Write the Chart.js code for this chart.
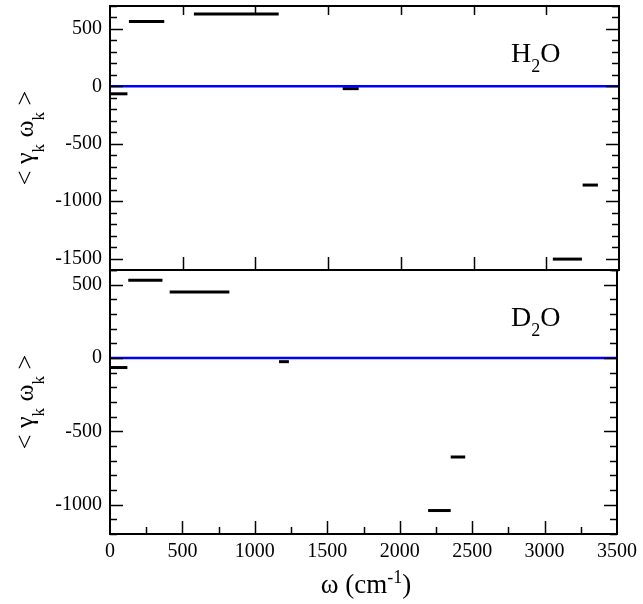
<!DOCTYPE html>
<html lang="en">
<head>
<meta charset="UTF-8">
<title>&lt;γk ωk&gt; for H2O and D2O</title>
<script src="https://cdn.jsdelivr.net/npm/chart.js@4.4.4/dist/chart.umd.min.js"></script>
<style>
  html, body { margin: 0; padding: 0; background: #fff; }
  .stage { position: relative; width: 643px; height: 604px; }
  .stage canvas { position: absolute; left: 0; top: 0; }
</style>
</head>
<body>
<div class="stage">
  <canvas id="h2oChart" width="643" height="604"></canvas>
  <canvas id="d2oChart" width="643" height="604"></canvas>
</div>
<script>
const SERIF = "'Liberation Serif', 'DejaVu Serif', serif";

// shared frequency axis (cm^-1)
const xTicks = [0, 500, 1000, 1500, 2000, 2500, 3000, 3500];
const xMinorTicks = [250, 750, 1250, 1750, 2250, 2750, 3250];

// H2O: each band is a flat segment from start to end at its mean value
const h2oStart = [0, 130, 577, 1600, 3045, 3250];
const h2oEnd = [120, 373, 1160, 1710, 3245, 3355];
const h2oValue = [-65, 565, 630, -20, -1505, -860];
const h2oTicks = [-1500, -1000, -500, 0, 500];

// D2O
const d2oStart = [0, 126, 412, 1167, 2196, 2352];
const d2oEnd = [120, 362, 824, 1235, 2352, 2452];
const d2oValue = [-65, 530, 450, -25, -1040, -675];
const d2oTicks = [-1000, -500, 0, 500];

Chart.defaults.font.family = SERIF;

function segmentDatasets(starts, ends, values) {
    const sets = [{
        data: [{ x: 0, y: 0 }, { x: 3500, y: 0 }],
        borderColor: '#0000ff',
        borderWidth: 2.5,
    }];
    starts.forEach((s, i) => {
        sets.push({
            data: [{ x: s, y: values[i] }, { x: ends[i], y: values[i] }],
            borderColor: '#000',
            borderWidth: 3,
            borderCapStyle: 'butt',
        });
    });
    return sets;
}

// Draw a run of text pieces (for sub/superscripts) along one baseline.
function drawRuns(ctx, runs, x, y, align) {
    let total = 0;
    runs.forEach((r) => {
        ctx.font = `${r.size}px ${SERIF}`;
        r.w = ctx.measureText(r.t).width;
        total += r.w;
    });
    let cx = align === 'center' ? x - total / 2 : x;
    ctx.textAlign = 'left';
    ctx.textBaseline = 'alphabetic';
    runs.forEach((r) => {
        ctx.font = `${r.size}px ${SERIF}`;
        ctx.fillText(r.t, cx, y + (r.dy || 0));
        cx += r.w;
    });
}

function range(from, to, step) {
    const out = [];
    for (let v = from; v <= to + 1e-9; v += step) out.push(v);
    return out;
}

// Frame, inward ticks on all four sides, panel label and axis titles.
function panelDecor(opts) {
    return {
        id: 'panelDecor',
        afterDraw(chart) {
            const { ctx, chartArea: a, scales } = chart;
            const x = scales.x, y = scales.y;
            ctx.save();
            ctx.strokeStyle = '#000';
            ctx.fillStyle = '#000';

            ctx.lineWidth = 1.5;
            const tick = (x0, y0, x1, y1) => {
                ctx.beginPath();
                ctx.moveTo(x0, y0);
                ctx.lineTo(x1, y1);
                ctx.stroke();
            };
            // y ticks: major every 500, minor every 100, left and right
            range(opts.yMin, opts.yMax, 100).forEach((v) => {
                const py = Math.round(y.getPixelForValue(v)) + 0.5;
                const len = v % 500 === 0 ? 13 : 7;
                tick(a.left, py, a.left + len, py);
                tick(a.right, py, a.right - len, py);
            });
            // x ticks
            xTicks.slice(1, -1).forEach((v) => {
                const px = Math.round(x.getPixelForValue(v)) + 0.5;
                if (opts.topTickLen) tick(px, a.top, px, a.top + opts.topTickLen);
                tick(px, a.bottom, px, a.bottom - 13);
            });
            if (opts.minorX) {
                xMinorTicks.forEach((v) => {
                    const px = Math.round(x.getPixelForValue(v)) + 0.5;
                    tick(px, a.bottom, px, a.bottom - 7);
                });
            }

            ctx.lineWidth = 2;
            ctx.strokeRect(a.left, a.top, a.right - a.left, a.bottom - a.top);

            // panel label, e.g. H2O
            drawRuns(ctx, [
                { t: opts.label, size: 28 },
                { t: '2', size: 18, dy: 10 },
                { t: 'O', size: 28 },
            ], 511, a.top + 56, 'left');

            // y title: < γk ωk >
            ctx.save();
            ctx.translate(33, (a.top + a.bottom) / 2);
            ctx.rotate(-Math.PI / 2);
            drawRuns(ctx, [
                { t: '< γ', size: 26 },
                { t: 'k', size: 17, dy: 11 },
                { t: ' ω', size: 26 },
                { t: 'k', size: 17, dy: 11 },
                { t: ' >', size: 26 },
            ], 0, 0, 'center');
            ctx.restore();

            if (opts.xTitle) {
                drawRuns(ctx, [
                    { t: 'ω (cm', size: 27 },
                    { t: '-1', size: 18, dy: -10 },
                    { t: ')', size: 27 },
                ], 366, 593, 'center');
            }
            ctx.restore();
        },
    };
}

function makePanel(canvasId, opts) {
    return new Chart(document.getElementById(canvasId), {
        type: 'line',
        data: { datasets: segmentDatasets(opts.start, opts.end, opts.value) },
        options: {
            responsive: false,
            devicePixelRatio: 1,
            animation: false,
            events: [],
            parsing: false,
            elements: { point: { radius: 0 }, line: { tension: 0 } },
            layout: { padding: opts.padding },
            plugins: { legend: { display: false }, tooltip: { enabled: false } },
            scales: {
                x: {
                    type: 'linear',
                    display: opts.xTitle,
                    min: 0,
                    max: 3500,
                    afterBuildTicks: (s) => { s.ticks = xTicks.map((v) => ({ value: v })); },
                    afterFit: (s) => { s.height = opts.xTitle ? 70 : 0; },
                    grid: { display: false, drawTicks: false },
                    border: { display: false },
                    ticks: {
                        padding: 6,
                        maxRotation: 0,
                        color: '#000',
                        font: { family: SERIF, size: 20 },
                        callback: (v) => String(v),
                    },
                },
                y: {
                    type: 'linear',
                    min: opts.yMin,
                    max: opts.yMax,
                    afterBuildTicks: (s) => { s.ticks = opts.ticks.map((v) => ({ value: v })); },
                    afterFit: (s) => {
                        s.width = 110;
                        s.paddingTop = 0;
                        s.paddingBottom = 0;
                    },
                    grid: { display: false, drawTicks: false },
                    border: { display: false },
                    ticks: {
                        padding: 8,
                        color: '#000',
                        font: { family: SERIF, size: 20 },
                        callback: (v) => String(v),
                    },
                },
            },
        },
        plugins: [panelDecor(opts)],
    });
}

makePanel('h2oChart', {
    start: h2oStart, end: h2oEnd, value: h2oValue, ticks: h2oTicks,
    yMin: -1600, yMax: 700, label: 'H', xTitle: false, minorX: false, topTickLen: 9,
    padding: { left: 0, top: 6, right: 24, bottom: 334 },
});

makePanel('d2oChart', {
    start: d2oStart, end: d2oEnd, value: d2oValue, ticks: d2oTicks,
    yMin: -1200, yMax: 600, label: 'D', xTitle: true, minorX: true, topTickLen: 0,
    padding: { left: 0, top: 270, right: 24, bottom: 0 },
});
</script>
</body>
</html>
